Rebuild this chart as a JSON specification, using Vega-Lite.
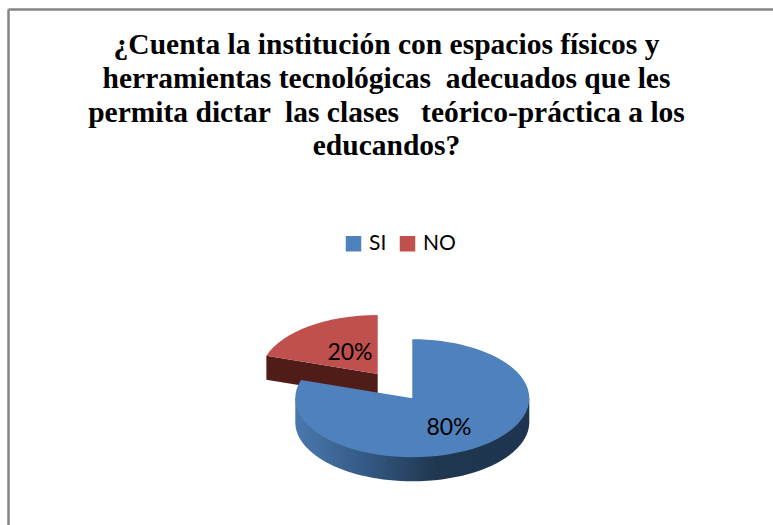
{
"$schema":"https://vega.github.io/schema/vega-lite/v6.json",
"width":765,"height":516,
"autosize":"none",
"padding":{"left":8,"top":9,"right":0,"bottom":0},
"background":"white",
"view":{"stroke":null},
"title":{"text":["¿Cuenta la institución con espacios físicos y","herramientas tecnológicas \u00a0adecuados que les","permita dictar \u00a0las clases \u00a0 teórico-práctica a los","educandos?"],"font":"Liberation Serif","fontWeight":"bold","fontSize":29.5,"lineHeight":33.7,"color":"#000000","anchor":"middle","frame":"group","dx":-4,"baseline":"top","offset":-153},
"data":{"values":[{"categoria":"SI","porcentaje":0.8},{"categoria":"NO","porcentaje":0.2}]},
"encoding":{
"x":{"datum":0,"type":"quantitative","scale":{"domain":[-1,1]},"axis":{"orient":"top","title":null,"labels":false,"ticks":false,"grid":false,"domain":true,"domainColor":"#868686","domainWidth":2.5}},
"y":{"datum":0,"type":"quantitative","scale":{"domain":[-1,1]},"axis":{"orient":"left","title":null,"labels":false,"ticks":false,"grid":false,"domain":true,"domainColor":"#868686","domainWidth":2.5}}
},
"layer":[
{"transform":[{"filter":"datum.categoria==='NO'"}],"mark":{"type":"point","filled":true,"opacity":1,"size":4,"fill":"#4f1c18","shape":"M-124.1,88.8 L-12.8,107 L-12.8,131 L-124.1,112.8 Z"}},
{"transform":[{"filter":"datum.categoria==='SI'"}],"mark":{"type":"point","filled":true,"opacity":1,"size":4,"shape":"M-95.2,131.3 L-95.2,155.3 A117,59 0 0 0 138.8,155.3 L138.8,131.3 Z","fill":{"gradient":"linear","x1":0,"y1":0,"x2":1,"y2":0,"stops":[{"offset":0,"color":"#4a78ae"},{"offset":0.3,"color":"#345a85"},{"offset":0.6,"color":"#20374f"},{"offset":1,"color":"#1e3450"}]}}},
{"transform":[{"filter":"datum.categoria==='NO'"}],"mark":{"type":"point","filled":true,"opacity":1,"size":4,"shape":"M-12.8,107 L-12.8,48 A117,59 0 0 0 -124.1,88.8 Z"},
"encoding":{"color":{"field":"categoria","type":"nominal","scale":{"domain":["SI","NO"],"range":["#4f81bd","#c0504d"]},"legend":{"orient":"none","legendX":335,"legendY":224,"direction":"horizontal","title":null,"symbolType":"square","symbolSize":240,"symbolOpacity":1,"labelFont":"Lato","labelFontSize":21,"labelColor":"#000000","columnPadding":10,"labelOffset":5,"padding":0}}}},
{"transform":[{"filter":"datum.categoria==='SI'"}],"mark":{"type":"point","filled":true,"opacity":1,"size":4,"shape":"M21.8,131.3 L21.8,72.3 A117,59 0 1 1 -89.5,113.1 Z"},
"encoding":{"color":{"field":"categoria","type":"nominal"}}},
{"transform":[{"filter":"datum.categoria==='SI'"}],"mark":{"type":"text","font":"Lato","fontSize":23,"color":"#000000","align":"center","baseline":"middle","dx":58.5,"dy":161},"encoding":{"text":{"field":"porcentaje","type":"quantitative","format":".0%"}}},
{"transform":[{"filter":"datum.categoria==='NO'"}],"mark":{"type":"text","font":"Lato","fontSize":23,"color":"#000000","align":"center","baseline":"middle","dx":-40.5,"dy":85.7},"encoding":{"text":{"field":"porcentaje","type":"quantitative","format":".0%"}}}
]
}
